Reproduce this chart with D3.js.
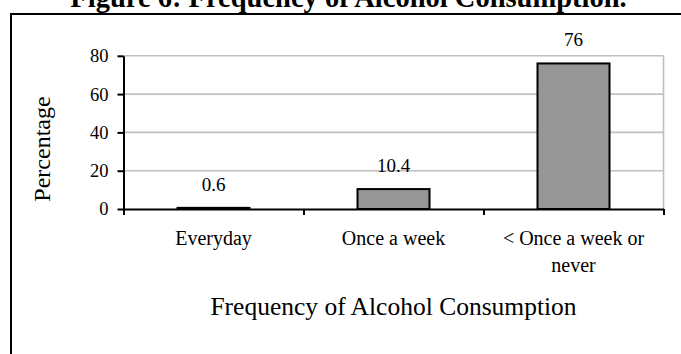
<!DOCTYPE html>
<html>
<head>
<meta charset="utf-8">
<script src="https://cdn.jsdelivr.net/npm/d3@7"></script>
<style>
  html, body { margin: 0; padding: 0; background: #fff; }
  svg { display: block; }
  text { font-family: "Liberation Serif", "Times New Roman", serif; fill: #000; }
</style>
</head>
<body>
<svg id="chart" width="681" height="354"></svg>
<script>
// ---- data ----
const title = "Figure 6: Frequency of Alcohol Consumption.";
const categories = ["Everyday", "Once a week", "< Once a week or never"];
const values = [0.6, 10.4, 76];
const yTicks = [0, 20, 40, 60, 80];
const xTitle = "Frequency of Alcohol Consumption";
const yTitle = "Percentage";

// ---- layout ----
const W = 681, H = 354;
const plot = { left: 123.5, right: 663.5, top: 55.8, bottom: 209 };

const svg = d3.select("#chart");
svg.append("rect").attr("width", W).attr("height", H).attr("fill", "#fff");

// outer frame (right/bottom edges outside the view)
svg.append("rect")
  .attr("x", 11).attr("y", 14).attr("width", 720).attr("height", 420)
  .attr("fill", "none").attr("stroke", "#000").attr("stroke-width", 2);

// title
svg.append("text")
  .attr("x", 348.5).attr("y", 7)
  .attr("text-anchor", "middle")
  .style("font-size", "28.5px").style("font-weight", "bold")
  .text(title);

const x = d3.scaleBand().domain(categories)
  .range([plot.left, plot.right]).paddingInner(0.6).paddingOuter(0.3);
const xEdges = d3.scaleLinear().domain([0, categories.length]).range([plot.left, plot.right]);
const y = d3.scaleLinear().domain([0, 80]).range([plot.bottom, plot.top]);

// gridlines
svg.append("g").selectAll("line").data(yTicks.filter(d => d > 0)).join("line")
  .attr("x1", plot.left).attr("x2", plot.right)
  .attr("y1", d => y(d)).attr("y2", d => y(d))
  .attr("stroke", "#c0c0c0").attr("stroke-width", 1.6);
// plot area right border
svg.append("line")
  .attr("x1", plot.right).attr("x2", plot.right)
  .attr("y1", y(80)).attr("y2", y(0))
  .attr("stroke", "#c0c0c0").attr("stroke-width", 1.6);

// bars
svg.append("g").selectAll("rect").data(values).join("rect")
  .attr("x", (d, i) => x(categories[i]))
  .attr("width", x.bandwidth())
  .attr("y", d => y(d))
  .attr("height", d => y(0) - y(d))
  .attr("fill", "#969696").attr("stroke", "#000").attr("stroke-width", 2);

// data labels
svg.append("g").selectAll("text").data(values).join("text")
  .attr("x", (d, i) => x(categories[i]) + x.bandwidth() / 2)
  .attr("y", d => y(d) - 17)
  .attr("text-anchor", "middle")
  .style("font-size", "19px")
  .text(d => d);

// y axis
const yAxis = svg.append("g").attr("transform", `translate(${plot.left},0)`)
  .call(d3.axisLeft(y).tickValues(yTicks).tickSize(6).tickPadding(9).tickSizeOuter(0));
yAxis.select(".domain").attr("stroke", "#000").attr("stroke-width", 2);
yAxis.selectAll(".tick line").attr("stroke", "#000").attr("stroke-width", 2);
yAxis.selectAll(".tick text")
  .style("font-family", '"Liberation Serif", serif').style("font-size", "18.5px");

// x axis (tick marks at category boundaries)
const xAxis = svg.append("g").attr("transform", `translate(0,${plot.bottom})`)
  .call(d3.axisBottom(xEdges).tickValues(d3.range(categories.length + 1))
    .tickSize(6).tickSizeOuter(0).tickFormat(""));
xAxis.select(".domain").attr("stroke", "#000").attr("stroke-width", 2);
xAxis.selectAll(".tick line").attr("stroke", "#000").attr("stroke-width", 2);

// category labels with wrapping
const maxW = 165;
const catG = svg.append("g");
categories.forEach(c => {
  const t = catG.append("text")
    .attr("x", x(c) + x.bandwidth() / 2).attr("y", 245)
    .attr("text-anchor", "middle").style("font-size", "20px");
  const words = c.split(" ");
  let line = [];
  let lineNo = 0;
  let tspan = t.append("tspan").attr("x", x(c) + x.bandwidth() / 2).attr("dy", 0);
  words.forEach(w => {
    line.push(w);
    tspan.text(line.join(" "));
    if (tspan.node().getComputedTextLength() > maxW && line.length > 1) {
      line.pop();
      tspan.text(line.join(" "));
      line = [w];
      lineNo++;
      tspan = t.append("tspan").attr("x", x(c) + x.bandwidth() / 2).attr("dy", 27).text(w);
    }
  });
});

// axis titles
svg.append("text")
  .attr("x", (plot.left + plot.right) / 2).attr("y", 315)
  .attr("text-anchor", "middle").style("font-size", "25.5px")
  .text(xTitle);

svg.append("text")
  .attr("transform", "translate(50,149) rotate(-90)")
  .attr("text-anchor", "middle").style("font-size", "24px")
  .text(yTitle);
</script>
</body>
</html>
